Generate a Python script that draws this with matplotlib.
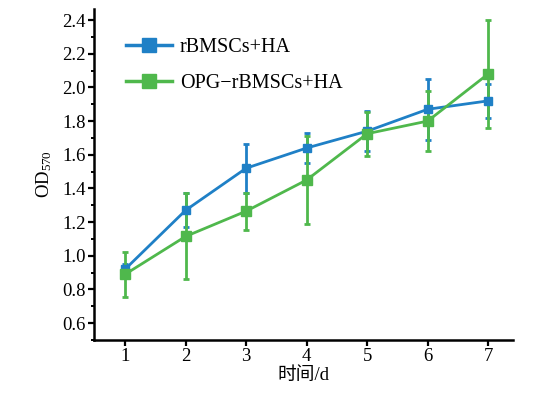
import matplotlib
matplotlib.use('Agg')
import matplotlib.pyplot as plt
from matplotlib.lines import Line2D
from matplotlib.ticker import MultipleLocator

# time points (days)
days = [1, 2, 3, 4, 5, 6, 7]

# rBMSCs+HA
od_ctrl = [0.92, 1.27, 1.52, 1.64, 1.74, 1.87, 1.92]
err_ctrl = [0.03, 0.10, 0.145, 0.09, 0.12, 0.18, 0.10]

# OPG-rBMSCs+HA
od_opg = [0.89, 1.115, 1.265, 1.45, 1.725, 1.80, 2.08]
err_opg = [0.135, 0.255, 0.11, 0.26, 0.13, 0.178, 0.32]

labels = ['rBMSCs+HA', 'OPG\u2212rBMSCs+HA']
blue = '#1f80c6'
green = '#4fb84c'

plt.rcParams['font.family'] = ['Liberation Serif', 'Noto Sans CJK SC']
plt.rcParams['mathtext.default'] = 'regular'

fig = plt.figure(figsize=(5.54, 3.94), dpi=100)
ax = fig.add_axes([0.170, 0.137, 0.756, 0.840])

ax.errorbar(days, od_ctrl, yerr=err_ctrl, color=blue, marker='s', markersize=6,
            linewidth=2, elinewidth=2, capsize=2.5, capthick=2)
ax.errorbar(days, od_opg, yerr=err_opg, color=green, marker='s', markersize=6.5,
            linewidth=2, elinewidth=2, capsize=2.5, capthick=2)

ax.set_xlim(0.49, 7.41)
ax.set_ylim(0.5, 2.465)
ax.set_xticks(days)
ax.yaxis.set_minor_locator(MultipleLocator(0.1))
ax.set_yticks([0.6, 0.8, 1.0, 1.2, 1.4, 1.6, 1.8, 2.0, 2.2, 2.4])
ax.set_yticklabels(['0.6', '0.8', '1.0', '1.2', '1.4', '1.6', '1.8', '2.0', '2.2', '2.4'])

for s in ['top', 'right']:
    ax.spines[s].set_visible(False)
for s in ['left', 'bottom']:
    ax.spines[s].set_linewidth(1.8)

ax.tick_params(axis='both', which='major', direction='out', length=4, width=1.6,
               labelsize=13.5, pad=2)
ax.tick_params(axis='y', which='minor', direction='out', length=2.5, width=1.4)

ax.set_xlabel('时间/d', fontsize=13.5, labelpad=1)
ax.set_ylabel('OD$_{570}$', fontsize=13.5, labelpad=6)

handles = [Line2D([], [], color=blue, marker='s', markersize=9.5, linewidth=2.5),
           Line2D([], [], color=green, marker='s', markersize=10, linewidth=2.5)]
ax.legend(handles, labels, loc='upper left', bbox_to_anchor=(0.075, 0.913), frameon=False,
          fontsize=14.5, handlelength=2.3, handletextpad=0.4,
          labelspacing=0.85, borderpad=0, borderaxespad=0)

fig.savefig('out.png', dpi=100)
